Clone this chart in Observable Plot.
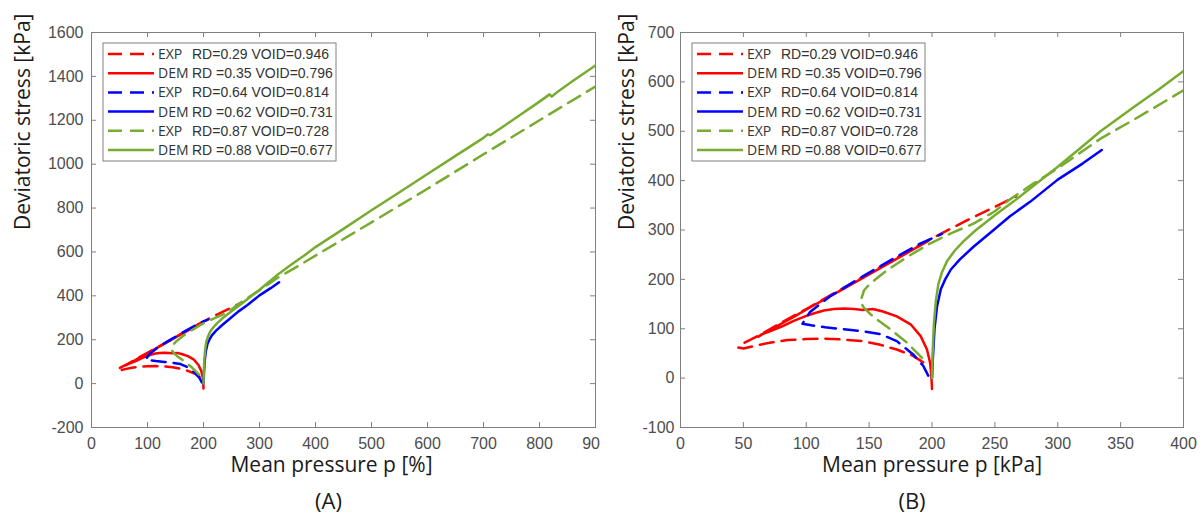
<!DOCTYPE html>
<html><head><meta charset="utf-8">
<script src="https://cdn.jsdelivr.net/npm/d3@7"></script>
<script src="https://cdn.jsdelivr.net/npm/@observablehq/plot@0.6"></script>
<style>
html,body{margin:0;padding:0;background:#fff;}
#wrap{position:relative;width:1201px;height:525px;overflow:hidden;background:#fff;}
#a{position:absolute;left:0;top:0;}
#b{position:absolute;left:600px;top:0;}
</style></head><body><div id="wrap"><div id="a"></div><div id="b"></div></div>
<script>
// ---- series meta ----
const legendLabels = ["EXP", "DEM", "EXP", "DEM", "EXP", "DEM"];
const legendTexts = ["RD=0.29 VOID=0.946", "RD =0.35 VOID=0.796", "RD=0.64 VOID=0.814", "RD =0.62 VOID=0.731", "RD=0.87 VOID=0.728", "RD =0.88 VOID=0.677"];
const seriesColors = ["#ff0000", "#ff0000", "#0000ff", "#0000ff", "#77ac30", "#77ac30"];
const seriesDashed = [true, false, true, false, true, false];

// ---- data: mean pressure p, deviatoric stress q ----
const expRd029P = [193,185,172,158,145,130,115,100,85,72,60,50,46,48,55,65,80,100,125,150,175,200,225,250,267];
const expRd029Q = [32,45,58,68,75,78,80,79,77,72,66,60,62,68,77,90,112,140,176,212,248,283,316,347,368];
const demRd035P = [200,199.5,198.5,196,191,183,172,161,153,145,138,130,122,114,107,100,90,80,70,64,62,66,75,90,105,125,150,175,197];
const demRd035Q = [-22,5,31,58,85,109,125,135,140,138,140,141,140,137,132,126,116,104,94,88,84,90,103,124,146,174,210,246,278];
const expRd064P = [197,193,185,172,159,145,130,115,104,97,103,119,145,172,191,208];
const expRd064Q = [5,25,48,75,89,95,99,103,107,110,134,166,206,246,273,292];
const demRd062P = [200,200.7,202,204,207,210.5,215,222,233,249,262,278,300,320,335];
const demRd062Q = [0,40,100,145,180,200,220,240,266,300,328,357,402,435,462];
const expRd087P = [192,180,167,153,146,143,146,151,164,180,198,215,233,250,262,280,300,334,365,400,500,600,700,800,900];
const expRd087Q = [41,72,99,125,142,155,178,192,218,245,272,293,313,338,362,393,425,485,530,583,735,888,1045,1200,1354];
const demRd088P = [200,200.5,201.5,203,205,208,212,218,225,235,250,265,280,300,320,334,360,380,400,450,500,550,600,650,700,708,712,740,760,800,818,822,830,860,900];
const demRd088Q = [0,50,110,155,190,215,237,258,277,300,330,358,388,428,470,500,548,584,622,705,790,872,955,1038,1120,1136,1132,1180,1215,1285,1318,1308,1325,1380,1450];

const seriesP = [expRd029P, demRd035P, expRd064P, demRd062P, expRd087P, demRd088P];
const seriesQ = [expRd029Q, demRd035Q, expRd064Q, demRd062Q, expRd087Q, demRd088Q];

// ---- axis ticks ----
const xTicksA = [0,100,200,300,400,500,600,700,800,900];
const yTicksA = [-200,0,200,400,600,800,1000,1200,1400,1600];
const xTicksB = [0,50,100,150,200,250,300,350,400];
const yTicksB = [-100,0,100,200,300,400,500,600,700];

const yTitle = "Deviatoric stress [kPa]";
const xTitleA = "Mean pressure p [%]";
const xTitleB = "Mean pressure p [kPa]";
const panelA = "(A)";
const panelB = "(B)";

const series = seriesP.map((ps, i) => ({
  rows: ps.map((p, j) => ({p, q: seriesQ[i][j]})),
  color: seriesColors[i],
  dashed: seriesDashed[i]
}));

const GRAY = "#808080";
const TICKCOL = "#4d4d4d";
const H = 525, MT = 32, MB = 98;

function makePanel(o) {
  const fh = H - MT - MB;
  const fw = o.width - o.marginLeft - o.marginRight;
  const marks = [];
  series.forEach(s => {
    marks.push(Plot.line(s.rows.filter(r => r.p <= o.xDomain[1]), {
      x: "p", y: "q", stroke: s.color, strokeWidth: 2.5,
      strokeDasharray: s.dashed ? "14,8" : null, clip: true
    }));
  });
  marks.push(Plot.frame({stroke: GRAY, strokeWidth: 1}));
  marks.push(Plot.tickX(o.xTicks, {x: d => d, insetTop: fh - 5, stroke: GRAY}));
  marks.push(Plot.tickX(o.xTicks, {x: d => d, insetBottom: fh - 5, stroke: GRAY}));
  marks.push(Plot.tickY(o.yTicks, {y: d => d, insetLeft: fw - 5, stroke: GRAY}));
  marks.push(Plot.tickY(o.yTicks, {y: d => d, insetRight: fw - 5, stroke: GRAY}));
  marks.push(Plot.axisX(o.xTicks, {tickSize: 0, tickPadding: 10, label: null, tickFormat: d => String(d),
    fontSize: 16, fontFamily: "Liberation Sans, Arial, sans-serif", color: TICKCOL}));
  marks.push(Plot.axisY(o.yTicks, {tickSize: 0, tickPadding: o.yTickPad, label: null, tickFormat: d => String(d),
    fontSize: 16, fontFamily: "Liberation Sans, Arial, sans-serif", color: TICKCOL}));
  marks.push(Plot.text([o.xTitle], {text: d => d, frameAnchor: "bottom", lineAnchor: "top", dy: 30, dx: o.xTitleDx,
    fontSize: 21, fontFamily: "Open Sans", fill: "#1a1a1a"}));
  marks.push(Plot.text([yTitle], {text: d => d, frameAnchor: "left", rotate: -90, dx: o.yTitleDx,
    fontSize: 21, fontFamily: "Open Sans", fill: "#1a1a1a"}));
  marks.push(Plot.text([o.panel], {text: d => d, frameAnchor: "bottom", dy: 81, dx: o.panelDx,
    fontSize: 22, fontFamily: "Open Sans", fill: "#1a1a1a"}));
  const svg = Plot.plot({
    width: o.width, height: H,
    marginLeft: o.marginLeft, marginRight: o.marginRight, marginTop: MT, marginBottom: MB,
    x: {domain: o.xDomain},
    y: {domain: o.yDomain},
    style: {background: "white", fontFamily: "Liberation Sans, Arial, sans-serif", overflow: "visible"},
    marks
  });
  addLegend(svg, o.marginLeft + 12);
  return svg;
}

function addLegend(svg, left) {
  const g = d3.select(svg).append("g").attr("text-anchor", "start");
  g.append("rect").attr("x", left).attr("y", 43).attr("width", 233).attr("height", 118)
    .attr("fill", "white").attr("stroke", GRAY).attr("stroke-width", 1);
  legendLabels.forEach((lab, i) => {
    const y = 54 + i * 19.2;
    const ln = g.append("line").attr("x1", left + 5).attr("x2", left + 51).attr("y1", y).attr("y2", y)
      .attr("stroke", seriesColors[i]).attr("stroke-width", 2.5);
    if (seriesDashed[i]) ln.attr("stroke-dasharray", "14,8");
    g.append("text").attr("x", left + 55).attr("y", y).attr("dy", "0.35em").attr("text-anchor", "start")
      .attr("font-family", "Open Sans").attr("font-size", 14).attr("fill", "#333").text(lab);
    g.append("text").attr("x", left + 89).attr("y", y).attr("dy", "0.35em").attr("text-anchor", "start")
      .attr("font-family", "Liberation Sans, Arial, sans-serif").attr("font-size", 14).attr("fill", "#333").text(legendTexts[i]);
  });
}

document.getElementById("a").appendChild(makePanel({
  width: 600, marginLeft: 91, marginRight: 5,
  xDomain: [0, 900], yDomain: [-200, 1600], xTicks: xTicksA, yTicks: yTicksA,
  xTitle: xTitleA, panel: panelA, xTitleDx: -12, panelDx: -15, yTickPad: 8, yTitleDx: -68
}));
document.getElementById("b").appendChild(makePanel({
  width: 601, marginLeft: 80, marginRight: 18,
  xDomain: [0, 400], yDomain: [-100, 700], xTicks: xTicksB, yTicks: yTicksB,
  xTitle: xTitleB, panel: panelB, xTitleDx: 0, panelDx: -20, yTickPad: 6, yTitleDx: -53
}));
</script>
</body></html>
